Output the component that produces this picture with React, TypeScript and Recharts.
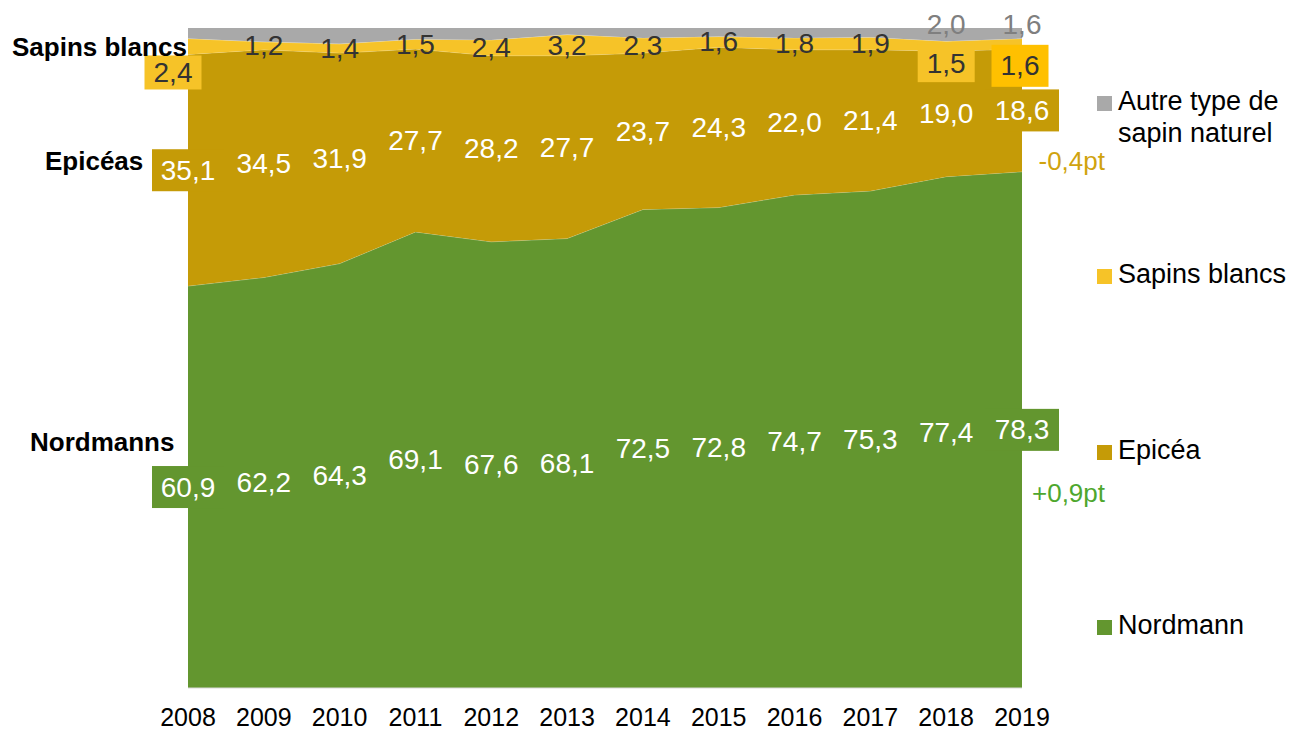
import React from 'react';
import { ComposedChart, Area, Line, XAxis, YAxis, LabelList } from 'recharts';

const years = ['2008', '2009', '2010', '2011', '2012', '2013', '2014', '2015', '2016', '2017', '2018', '2019'];
const nordmann = [60.9, 62.2, 64.3, 69.1, 67.6, 68.1, 72.5, 72.8, 74.7, 75.3, 77.4, 78.3];
const epicea = [35.1, 34.5, 31.9, 27.7, 28.2, 27.7, 23.7, 24.3, 22.0, 21.4, 19.0, 18.6];
const sapinsBlancs = [2.4, 1.2, 1.4, 1.5, 2.4, 3.2, 2.3, 1.6, 1.8, 1.9, 1.5, 1.6];
const autre = [1.6, 2.1, 2.4, 1.7, 1.8, 1.0, 1.5, 1.3, 1.5, 1.4, 2.0, 1.6];
const autreLabelShown = [false, false, false, false, false, false, false, false, false, false, true, true];

const C_NORD = '#63962f';
const C_EPI = '#c59b07';
const C_SAP = '#f6c328';
const C_AUT = '#a9a9a9';
const FONT = '"Liberation Sans", Arial, Helvetica, sans-serif';

const data = years.map((year, i) => {
  const n = nordmann[i];
  const e = epicea[i];
  const s = sapinsBlancs[i];
  const a = autre[i];
  const t = n + e + s + a;
  return {
    year,
    nordmann: n,
    epicea: e,
    sapins: s,
    autre: a,
    midN: n / 2 / t,
    midE: (n + e / 2) / t,
    midS: (n + e + s / 2) / t,
    midA: (n + e + s + a / 2) / t,
  };
});

const fmt = (v: number) => v.toFixed(1).replace('.', ',');

type Special = { dx?: number; dy?: number; box?: { w: number; h: number; fill: string } };

const nordSpecials: Record<number, Special> = {
  0: { box: { w: 72, h: 42, fill: C_NORD } },
  11: { box: { w: 74, h: 42, fill: C_NORD } },
};
const epiSpecials: Record<number, Special> = {
  0: { box: { w: 72, h: 42, fill: C_EPI } },
  11: { box: { w: 74, h: 42, fill: C_EPI } },
};
const sapSpecials: Record<number, Special> = {
  0: { dx: -15, dy: 26, box: { w: 57, h: 34, fill: C_SAP } },
  10: { dx: 0, dy: 17, box: { w: 57, h: 38, fill: C_SAP } },
  11: { dx: -2, dy: 22, box: { w: 57, h: 42, fill: '#ffc000' } },
};
const autSpecials: Record<number, Special> = {
  10: { dy: -10 },
  11: { dy: -9 },
};

const makeLabel =
  (values: number[], color: string, specials: Record<number, Special>, shown?: boolean[]) =>
  (props: any) => {
    const { x, y, index } = props;
    if (shown && !shown[index]) return null;
    const sp = specials[index] || {};
    const cx = x + (sp.dx ?? 0);
    const cy = y + (sp.dy ?? 0);
    return (
      <g key={`lbl-${color}-${index}`}>
        {sp.box && (
          <rect x={cx - sp.box.w / 2} y={cy - sp.box.h / 2} width={sp.box.w} height={sp.box.h} fill={sp.box.fill} />
        )}
        <text
          x={cx}
          y={cy}
          textAnchor="middle"
          dominantBaseline="central"
          fontSize={28}
          fontFamily={FONT}
          fill={color}
        >
          {fmt(values[index])}
        </text>
      </g>
    );
  };

const legendItems = [
  { lines: ['Autre type de', 'sapin naturel'], color: C_AUT, capCenter: 101 },
  { lines: ['Sapins blancs'], color: C_SAP, capCenter: 274 },
  { lines: ['Epicéa'], color: C_EPI, capCenter: 450 },
  { lines: ['Nordmann'], color: C_NORD, capCenter: 625 },
];

const sideLabels = [
  { text: 'Sapins blancs', left: 12, capCenter: 47 },
  { text: 'Epicéas', left: 45, capCenter: 161 },
  { text: 'Nordmanns', left: 30, capCenter: 442 },
];

const deltas = [
  { text: '-0,4pt', color: '#d0a30f', capCenter: 161 },
  { text: '+0,9pt', color: '#4ea72e', capCenter: 493 },
];

export default function App() {
  return (
    <div style={{ position: 'absolute', left: 0, top: 0, width: 1293, height: 731, background: '#fff', fontFamily: FONT }}>
      <ComposedChart
        width={1293}
        height={731}
        data={data}
        stackOffset="expand"
        margin={{ top: 28, right: 271, bottom: 0, left: 188 }}
      >
        <XAxis
          dataKey="year"
          interval={0}
          tickLine={false}
          axisLine={{ stroke: '#d9d9d9' }}
          tick={{ fontSize: 25, fill: '#000', fontFamily: FONT }}
          tickMargin={14}
          height={43}
        />
        <YAxis hide type="number" domain={[0, 1]} />
        <Area type="linear" dataKey="nordmann" stackId="1" fill={C_NORD} fillOpacity={1} stroke="#ffffff" strokeOpacity={0.3} isAnimationActive={false} />
        <Area type="linear" dataKey="epicea" stackId="1" fill={C_EPI} fillOpacity={1} stroke="#ffffff" strokeOpacity={0.3} isAnimationActive={false} />
        <Area type="linear" dataKey="sapins" stackId="1" fill={C_SAP} fillOpacity={1} stroke="#ffffff" strokeOpacity={0.4} isAnimationActive={false} />
        <Area type="linear" dataKey="autre" stackId="1" fill={C_AUT} fillOpacity={1} stroke="none" isAnimationActive={false} />
        <Line dataKey="midN" stroke="none" dot={false} activeDot={false} legendType="none" isAnimationActive={false}>
          <LabelList dataKey="midN" content={makeLabel(nordmann, '#ffffff', nordSpecials)} />
        </Line>
        <Line dataKey="midE" stroke="none" dot={false} activeDot={false} legendType="none" isAnimationActive={false}>
          <LabelList dataKey="midE" content={makeLabel(epicea, '#ffffff', epiSpecials)} />
        </Line>
        <Line dataKey="midS" stroke="none" dot={false} activeDot={false} legendType="none" isAnimationActive={false}>
          <LabelList dataKey="midS" content={makeLabel(sapinsBlancs, '#333333', sapSpecials)} />
        </Line>
        <Line dataKey="midA" stroke="none" dot={false} activeDot={false} legendType="none" isAnimationActive={false}>
          <LabelList dataKey="midA" content={makeLabel(autre, '#7f7f7f', autSpecials, autreLabelShown)} />
        </Line>
      </ComposedChart>

      {sideLabels.map((s) => (
        <div
          key={s.text}
          style={{
            position: 'absolute',
            left: s.left,
            top: s.capCenter - 15.8,
            fontSize: 26,
            lineHeight: '32px',
            fontWeight: 'bold',
            color: '#000',
            whiteSpace: 'nowrap',
          }}
        >
          {s.text}
        </div>
      ))}

      {deltas.map((d) => (
        <div
          key={d.text}
          style={{
            position: 'absolute',
            right: 1293 - 1105,
            top: d.capCenter - 15.7,
            fontSize: 26,
            lineHeight: '32px',
            color: d.color,
            whiteSpace: 'nowrap',
          }}
        >
          {d.text}
        </div>
      ))}

      {legendItems.map((it) => (
        <div key={it.lines[0]}>
          <div
            style={{
              position: 'absolute',
              left: 1097,
              top: it.capCenter - 5,
              width: 15,
              height: 15,
              background: it.color,
            }}
          />
          <div
            style={{
              position: 'absolute',
              left: 1118,
              top: it.capCenter - 16,
              fontSize: 27,
              lineHeight: '32px',
              color: '#000',
              whiteSpace: 'nowrap',
            }}
          >
            {it.lines.map((l) => (
              <div key={l}>{l}</div>
            ))}
          </div>
        </div>
      ))}
    </div>
  );
}
